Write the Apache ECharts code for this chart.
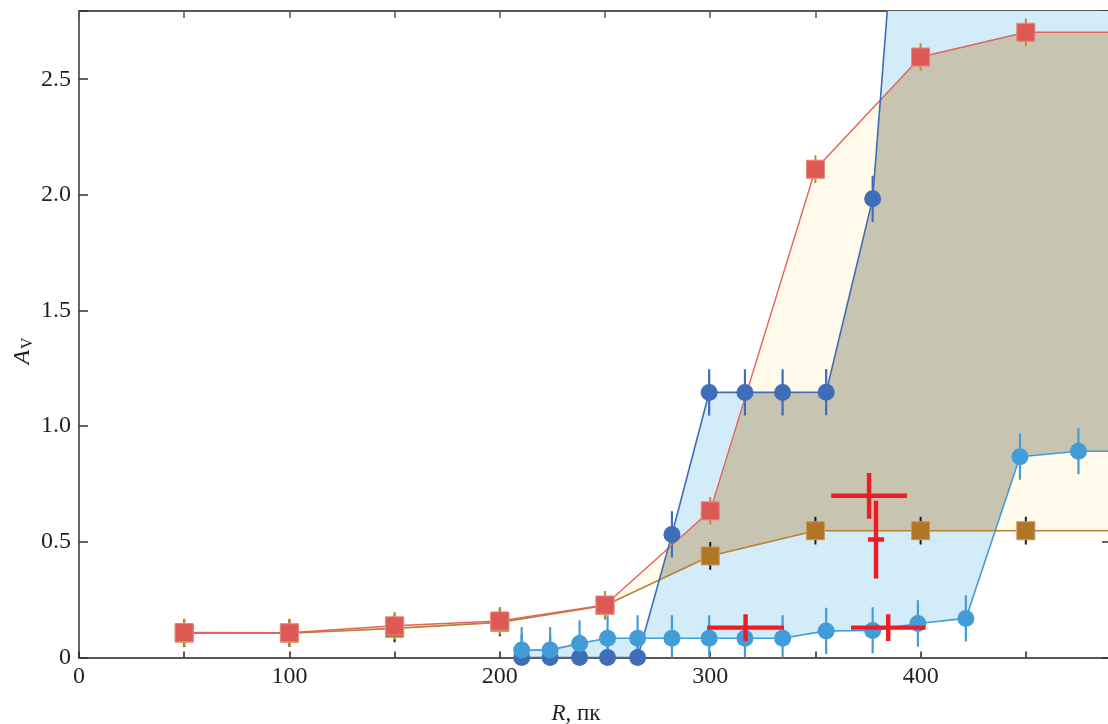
<!DOCTYPE html>
<html>
<head>
<meta charset="utf-8">
<script src="https://cdn.jsdelivr.net/npm/echarts@6/dist/echarts.min.js"></script>
<style>
html,body{margin:0;padding:0;background:#fff;overflow:hidden;}
#chart{width:1108px;height:724px;}
</style>
</head>
<body>
<div id="chart"></div>
<script>
// ---- data ----
const squareX  = [50, 100, 150, 200, 250, 300, 350, 400, 450, 500];
const redAv    = [0.108, 0.107, 0.137, 0.158, 0.227, 0.634, 2.111, 2.596, 2.703, 2.703];
const brownAv  = [0.105, 0.105, 0.126, 0.152, 0.225, 0.439, 0.548, 0.548, 0.548, 0.548];
const redErr   = [0.06, 0.06, 0.06, 0.06, 0.06, 0.06, 0.06, 0.06, 0.06, 0.06];
const brownErr = [0.06, 0.06, 0.06, 0.06, 0.06, 0.06, 0.06, 0.06, 0.06, 0.06];

const circleX  = [210.4, 223.9, 237.9, 251.2, 265.5, 281.8, 299.5, 316.5, 334.4, 355.1, 377.2, 398.7, 421.5, 447.2, 475.0, 500.0];
const lightAv  = [0.032, 0.032, 0.061, 0.083, 0.083, 0.083, 0.083, 0.083, 0.083, 0.115, 0.117, 0.147, 0.169, 0.868, 0.892, 0.892];
const lightErr = [0.1, 0.1, 0.1, 0.1, 0.1, 0.1, 0.1, 0.1, 0.1, 0.1, 0.1, 0.1, 0.1, 0.1, 0.1, 0.1];
const darkX    = [210.4, 223.9, 237.9, 251.2, 265.5, 281.8, 299.5, 316.5, 334.4, 355.1, 377.2, 398.7];
const darkAv   = [0, 0, 0, 0, 0, 0.532, 1.146, 1.146, 1.146, 1.147, 1.983, 4.5];
const darkErr  = [0.1, 0.1, 0.1, 0.1, 0.1, 0.1, 0.1, 0.1, 0.1, 0.1, 0.1, 0.1];

const crossX     = [375.5, 378.8, 316.8, 384.6];
const crossAv    = [0.699, 0.510, 0.129, 0.129];
const crossXerr  = [18.0, 3.8, 18.3, 17.7];
const crossYerr  = [0.099, 0.168, 0.058, 0.058];

const xTickLabels = [0, 100, 200, 300, 400];
const yTickLabels = ['0', '0.5', '1.0', '1.5', '2.0', '2.5'];

// ---- helpers ----
const zip = (xs, ys) => xs.map((x, i) => [x, ys[i]]);
function interp(xs, ys, x) {
  if (x <= xs[0]) return ys[0];
  const n = xs.length;
  if (x >= xs[n - 1]) return ys[n - 1];
  for (let i = 1; i < n; i++) {
    if (x <= xs[i]) {
      const t = (x - xs[i - 1]) / (xs[i] - xs[i - 1]);
      return ys[i - 1] + t * (ys[i] - ys[i - 1]);
    }
  }
  return ys[n - 1];
}
function uniqSorted(arr) {
  const s = arr.slice().sort((a, b) => a - b);
  const out = [];
  s.forEach(v => { if (!out.length || Math.abs(v - out[out.length - 1]) > 1e-9) out.push(v); });
  return out;
}
function addCrossings(xs, f, g) {
  const extra = [];
  for (let i = 1; i < xs.length; i++) {
    const a = xs[i - 1], b = xs[i];
    const da = f(a) - g(a), db = f(b) - g(b);
    if (da * db < 0) extra.push(a + (b - a) * da / (da - db));
  }
  return uniqSorted(xs.concat(extra));
}
const fRed = x => interp(squareX, redAv, x);
const fBrown = x => interp(squareX, brownAv, x);
const fLight = x => interp(circleX, lightAv, x);
const fDark = x => interp(darkX, darkAv, x);

// yellow band (between red & brown)
const yellowPoly = zip(squareX, redAv).concat(zip(squareX, brownAv).reverse());
// blue band (between dark & light blue)
const blueXs = uniqSorted(circleX.concat(darkX));
const bluePoly = blueXs.map(x => [x, fDark(x)]).concat(blueXs.slice().reverse().map(x => [x, fLight(x)]));
// overlap of both bands
let ovXs = uniqSorted(squareX.concat(circleX, darkX).filter(x => x >= circleX[0]));
ovXs = addCrossings(ovXs, fBrown, fLight);
ovXs = addCrossings(ovXs, fRed, fDark);
const fLo = x => Math.max(fBrown(x), fLight(x));
const fHi = x => Math.min(fRed(x), fDark(x));
ovXs = addCrossings(ovXs, fHi, fLo);
const overlapPoly = ovXs.map(x => [x, Math.max(fHi(x), fLo(x))]).concat(ovXs.slice().reverse().map(x => [x, fLo(x)]));

const SERIF = '"Liberation Serif", "DejaVu Serif", serif';
const C = {
  yellow: '#fffaea', blue: '#d3ecf9', overlap: '#c8c4b2',
  red: '#dd5a54', redLine: '#e2625c', brown: '#b07627', brownLine: '#b8822f',
  dark: '#3f6db8', light: '#429cd8', cross: '#ee1d25', text: '#231f20'
};

function errBarSeries(xs, ys, es, color, width, z) {
  return {
    type: 'custom', coordinateSystem: 'cartesian2d', clip: true, silent: true, z: z,
    data: xs.map((x, i) => [x, ys[i], es[i]]),
    encode: { x: 0, y: 1 },
    renderItem: function (params, api) {
      const x = api.value(0), y = api.value(1), e = api.value(2);
      const p1 = api.coord([x, y - e]), p2 = api.coord([x, y + e]);
      return { type: 'line', shape: { x1: p1[0], y1: p1[1], x2: p2[0], y2: p2[1] },
               style: { stroke: color, lineWidth: width } };
    }
  };
}

const option = {
  animation: false,
  backgroundColor: '#fff',
  grid: { left: 79, top: 11, width: 1031, height: 646.5, containLabel: false, outerBoundsMode: 'none' },
  xAxis: [
    {
      type: 'value', min: 0, max: 490, interval: 50, position: 'bottom',
      axisLine: { show: true, onZero: false, lineStyle: { color: '#222', width: 1.5 } },
      axisTick: { show: true, inside: true, length: 6, lineStyle: { color: '#222', width: 1.5 } },
      axisLabel: {
        margin: 7, fontFamily: SERIF, fontSize: 24, color: C.text,
        formatter: v => (xTickLabels.indexOf(v) >= 0 ? String(v) : '')
      },
      splitLine: { show: false }
    },
    {
      type: 'value', min: 0, max: 490, interval: 50, position: 'top',
      axisLine: { show: true, onZero: false, lineStyle: { color: '#555', width: 2 } },
      axisTick: { show: true, inside: true, length: 7, lineStyle: { color: '#555', width: 1.5 } },
      axisLabel: { show: false }, splitLine: { show: false }
    }
  ],
  yAxis: [
    {
      type: 'value', min: 0, max: 2.795, interval: 0.5, position: 'left',
      axisLine: { show: true, onZero: false, lineStyle: { color: '#333', width: 1.5 } },
      axisTick: { show: true, inside: true, length: 9, lineStyle: { color: '#333', width: 1.5 } },
      axisLabel: {
        margin: 8, fontFamily: SERIF, fontSize: 24, color: C.text,
        formatter: v => { const k = Math.round(v * 2); return Math.abs(v * 2 - k) < 1e-6 && k < yTickLabels.length ? yTickLabels[k] : ''; }
      },
      splitLine: { show: false }
    },
    {
      type: 'value', min: 0, max: 2.795, interval: 0.5, position: 'right',
      axisLine: { show: true, onZero: false, lineStyle: { color: '#333', width: 1.5 } },
      axisTick: { show: true, inside: true, length: 8, lineStyle: { color: '#333', width: 1.5 } },
      axisLabel: { show: false }, splitLine: { show: false }
    }
  ],
  graphic: [
    {
      type: 'text', x: 23, y: 351, rotation: Math.PI / 2,
      style: {
        text: '{a|A}{s|V}', align: 'center', verticalAlign: 'middle', fill: C.text,
        rich: {
          a: { fontFamily: SERIF, fontStyle: 'italic', fontSize: 24, lineHeight: 26, fill: C.text },
          s: { fontFamily: SERIF, fontSize: 16, lineHeight: 16, verticalAlign: 'bottom', fill: C.text, padding: [0, 0, 0, 1] }
        }
      }
    },
    {
      type: 'text', x: 576, y: 714,
      style: {
        text: '{r|R}{n|, пк}', align: 'center', verticalAlign: 'middle', fill: C.text,
        rich: {
          r: { fontFamily: SERIF, fontStyle: 'italic', fontSize: 23, fill: C.text },
          n: { fontFamily: SERIF, fontSize: 23, fill: C.text }
        }
      }
    }
  ],
  series: [
    {
      type: 'custom', coordinateSystem: 'cartesian2d', clip: true, silent: true, z: 1,
      data: [[0, 0]], encode: { x: 0, y: 1 },
      renderItem: function (params, api) {
        const toPx = poly => poly.map(p => api.coord(p));
        return {
          type: 'group',
          children: [
            { type: 'polygon', shape: { points: toPx(bluePoly) }, style: { fill: C.blue } },
            { type: 'polygon', shape: { points: toPx(yellowPoly) }, style: { fill: C.yellow } },
            { type: 'polygon', shape: { points: toPx(overlapPoly) }, style: { fill: C.overlap } }
          ]
        };
      }
    },
    errBarSeries(squareX, brownAv, brownErr, '#1a1a1a', 2, 2),
    errBarSeries(squareX, redAv, redErr, '#c78a2e', 2, 2),
    errBarSeries(darkX, darkAv, darkErr, C.dark, 2.2, 2),
    errBarSeries(circleX, lightAv, lightErr, C.light, 2.2, 2),
    {
      type: 'line', data: zip(squareX, brownAv), z: 3, clip: true, silent: true,
      symbol: 'rect', symbolSize: 18,
      lineStyle: { color: C.brownLine, width: 1.6 },
      itemStyle: { color: C.brown, borderColor: '#c99a55', borderWidth: 1 }
    },
    {
      type: 'line', data: zip(squareX, redAv), z: 3, clip: true, silent: true,
      symbol: 'rect', symbolSize: 18,
      lineStyle: { color: C.redLine, width: 1.4 },
      itemStyle: { color: C.red, borderColor: '#e8847e', borderWidth: 1 }
    },
    {
      type: 'line', data: zip(darkX, darkAv), z: 3, clip: true, silent: true,
      symbol: 'circle', symbolSize: 17,
      lineStyle: { color: C.dark, width: 1.6 },
      itemStyle: { color: C.dark }
    },
    {
      type: 'line', data: zip(circleX, lightAv), z: 3, clip: true, silent: true,
      symbol: 'circle', symbolSize: 17,
      lineStyle: { color: C.light, width: 1.6 },
      itemStyle: { color: C.light }
    },
    {
      type: 'custom', coordinateSystem: 'cartesian2d', clip: true, silent: true, z: 5,
      data: crossX.map((x, i) => [x, crossAv[i], crossXerr[i], crossYerr[i]]),
      encode: { x: 0, y: 1 },
      renderItem: function (params, api) {
        const x = api.value(0), y = api.value(1), ex = api.value(2), ey = api.value(3);
        const h1 = api.coord([x - ex, y]), h2 = api.coord([x + ex, y]);
        const v1 = api.coord([x, y - ey]), v2 = api.coord([x, y + ey]);
        const st = { stroke: C.cross, lineWidth: 4.4 };
        return {
          type: 'group',
          children: [
            { type: 'line', shape: { x1: h1[0], y1: h1[1], x2: h2[0], y2: h2[1] }, style: st },
            { type: 'line', shape: { x1: v1[0], y1: v1[1], x2: v2[0], y2: v2[1] }, style: st }
          ]
        };
      }
    }
  ]
};

const chart = echarts.init(document.getElementById('chart'), null, { renderer: 'canvas' });
chart.setOption(option);
</script>
</body>
</html>
